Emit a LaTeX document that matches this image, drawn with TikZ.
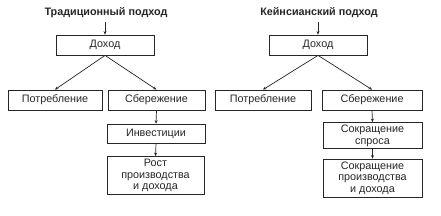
\documentclass[tikz,border=0pt]{standalone}
\usepackage{fontspec}
\setmainfont{Liberation Sans}
\usetikzlibrary{arrows.meta}
\begin{document}
\begin{tikzpicture}[x=1pt,y=-1pt,
  box/.style={draw=black!85, line width=0.8pt, fill=white, inner sep=0pt, align=center,
    font=\fontsize{10.8}{11.7}\selectfont, text=black!85},
  title/.style={font=\fontsize{10.8}{12}\selectfont\bfseries, text=black!85},
  conn/.style={draw=black!85, line width=0.7pt, -{Stealth[length=3.5pt,width=3pt]}}]
\fill[white] (0,0) rectangle (441,215);
\useasboundingbox (0,0) rectangle (441,215);
% left
\node[title] (tL) at (106,13) {Традиционный подход};
\node[box, minimum width=98pt, minimum height=20pt] (dL) at (105,45) {Доход};
\node[box, minimum width=94pt, minimum height=20pt] (pL) at (55,100) {Потребление};
\node[box, minimum width=97pt, minimum height=20pt] (sL) at (156.5,100) {Сбережение};
\node[box, minimum width=98pt, minimum height=19pt] (iL) at (156,133.5) {Инвестиции};
\node[box, minimum width=97pt, minimum height=38pt] (rL) at (155.5,175.5) {Рост\\производства\\и дохода};
\draw[conn] (tL.south -| dL.north) -- (dL.north);
\draw[conn] (dL.south) -- (pL.north);
\draw[conn] (dL.south) -- (sL.north);
\draw[conn] (sL.south) -- (iL.north);
\draw[conn] (iL.south) -- (rL.north);
% right
\node[title] (tR) at (319,13) {Кейнсианский подход};
\node[box, minimum width=98pt, minimum height=20pt] (dR) at (318,45) {Доход};
\node[box, minimum width=96pt, minimum height=20pt] (pR) at (263,100) {Потребление};
\node[box, minimum width=100pt, minimum height=20pt] (sR) at (372,100) {Сбережение};
\node[box, minimum width=99pt, minimum height=26pt] (cR) at (372.5,135.5) {Сокращение\\спроса};
\node[box, minimum width=99pt, minimum height=38pt] (qR) at (372.5,178) {Сокращение\\производства\\и дохода};
\draw[conn] (tR.south -| dR.north) -- (dR.north);
\draw[conn] (dR.south) -- (pR.north);
\draw[conn] (dR.south) -- (sR.north);
\draw[conn] (sR.south) -- (cR.north);
\draw[conn] (cR.south) -- (qR.north);
\end{tikzpicture}
\end{document}
